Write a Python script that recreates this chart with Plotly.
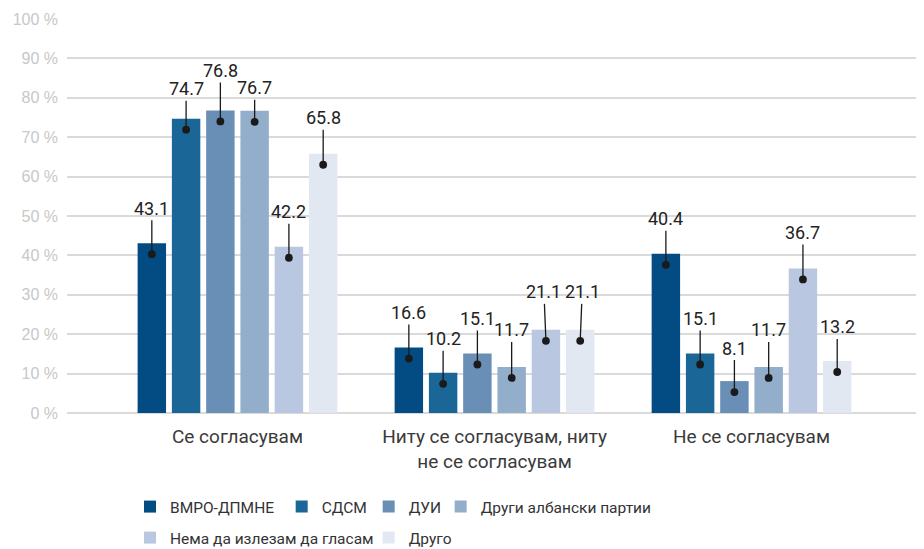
import plotly.graph_objects as go

categories = ["Се согласувам", "Ниту се согласувам, ниту<br>не се согласувам", "Не се согласувам"]
series_names = ["ВМРО-ДПМНЕ", "СДСМ", "ДУИ", "Други албански партии",
                "Нема да излезам да гласам", "Друго"]
vmro = [43.1, 16.6, 40.4]
sdsm = [74.7, 10.2, 15.1]
dui = [76.8, 15.1, 8.1]
albanian = [76.7, 11.7, 11.7]
not_voting = [42.2, 21.1, 36.7]
other = [65.8, 21.1, 13.2]
series_values = [vmro, sdsm, dui, albanian, not_voting, other]
y_ticks = list(range(0, 101, 10))
y_tick_text = [f"{t} %" for t in y_ticks]

colors = ["#034b83", "#1a6697", "#6a8fb6", "#93aecb", "#b9c8e0", "#e2e8f2"]
# label offsets (px) from the callout dot, per series per category
label_dy = [[-46, -46, -46],
            [-41, -45, -46],
            [-51, -46, -44],
            [-34, -48, -48],
            [-46, -49, -47],
            [-47, -49, -45]]
label_dx = [[0, 0, 0],
            [0, 0, 0],
            [0, 0, 0],
            [0, 0, 0],
            [0, -2, 0],
            [0, 2, 0]]
# legend entry placement (paper x, paper y) — one small legend per entry
legend_pos = [(0.0735, -0.2386), (0.2505, -0.2386), (0.3520, -0.2386), (0.4360, -0.2386),
              (0.0735, -0.3173), (0.3520, -0.3173)]

FONT = "Roboto, sans-serif"
bargap = 0.2
n = len(series_values)
xs = list(range(len(categories)))

fig = go.Figure()
annotations = []
legends = {}
for j, (name, vals) in enumerate(zip(series_names, series_values)):
    lid = "legend" if j == 0 else f"legend{j + 1}"
    fig.add_trace(go.Bar(
        x=xs, y=vals, name=name, marker_color=colors[j], marker_line_width=0,
        legend=lid, hoverinfo="y+name",
    ))
    lx, ly = legend_pos[j]
    legends[lid] = dict(orientation="h", x=lx, xanchor="left", y=ly, yanchor="middle",
                        font=dict(family=FONT, size=15.5, color="#333333"),
                        bgcolor="rgba(0,0,0,0)")
    slot = (1 - bargap) / n
    for i, v in enumerate(vals):
        xc = i - (1 - bargap) / 2 + slot * (j + 0.5)
        annotations.append(dict(
            x=xc, y=v, xref="x", yref="y", yshift=-11,
            text=f"{v:.1f}", showarrow=True, ax=label_dx[j][i], ay=label_dy[j][i],
            arrowhead=6, arrowsize=1.5, arrowwidth=1.3, arrowcolor="#1a1a1a",
            font=dict(family=FONT, size=18, color="#222222"),
        ))

fig.update_layout(
    width=916, height=541,
    margin=dict(l=59, r=0, t=11, b=136, autoexpand=False),
    plot_bgcolor="white", paper_bgcolor="white",
    barmode="group", bargap=bargap, bargroupgap=0.17,
    annotations=annotations,
    font=dict(family=FONT, color="#333333"),
    showlegend=True,
    **legends,
)
fig.update_xaxes(
    range=[-0.6634, 2.671], tickvals=xs, ticktext=categories, automargin=False,
    showgrid=False, zeroline=False, showline=False,
    ticks="outside", ticklen=6, tickcolor="rgba(0,0,0,0)",
    tickfont=dict(family=FONT, size=19, color="#3a3a3a"),
)
fig.update_yaxes(
    range=[0, 100], tickvals=y_ticks, ticktext=y_tick_text, automargin=False,
    showgrid=True, gridcolor="#dadada", gridwidth=1.5,
    zeroline=True, zerolinecolor="#dadada", zerolinewidth=1.5,
    showline=False, ticklabelstandoff=8,
    tickfont=dict(family="Liberation Sans, Arial, sans-serif", size=16, color="#c8c8c8"),
)

fig.write_html("out.html")
